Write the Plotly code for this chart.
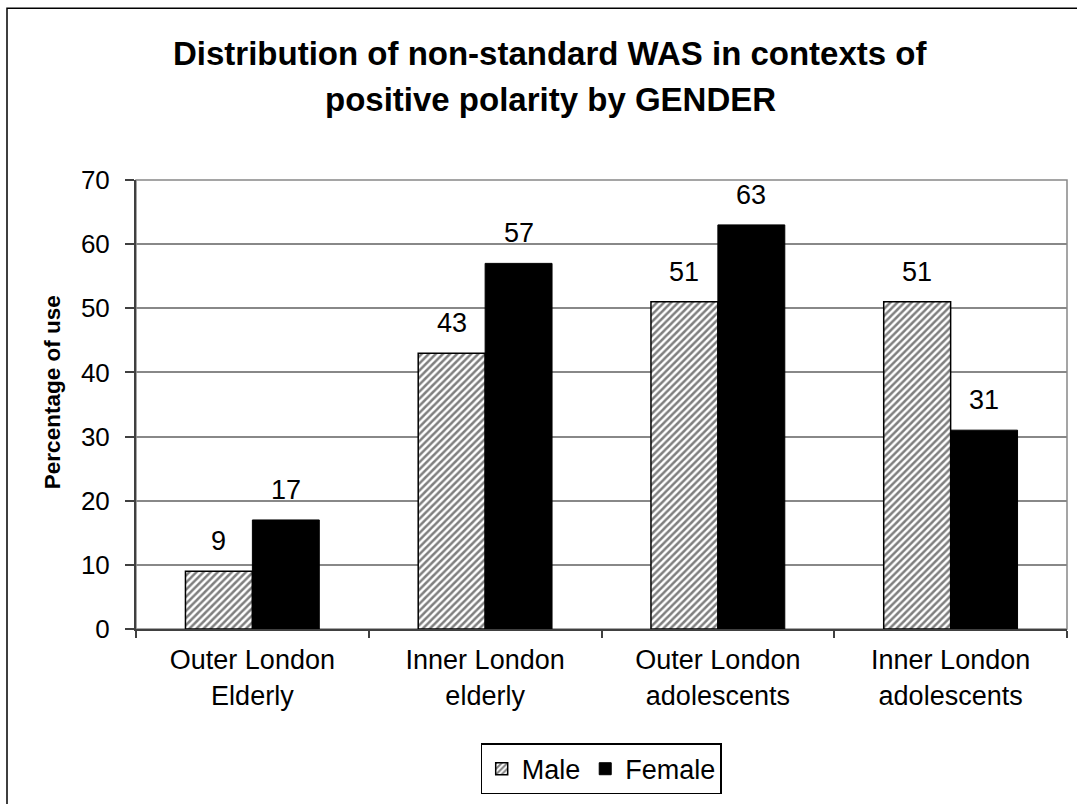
import plotly.graph_objects as go

# Data
groups = ["Outer London<br>Elderly", "Inner London<br>elderly",
          "Outer London<br>adolescents", "Inner London<br>adolescents"]
male = [9, 43, 51, 51]
female = [17, 57, 63, 31]
title_lines = ["Distribution of non-standard WAS in contexts of",
               "positive polarity by GENDER"]
y_title = "Percentage of use"

# Layout geometry (pixels)
W, H = 1077, 804
M_L, M_R, M_T, M_B = 136, 10, 180, 169
PW = W - M_L - M_R
PH = H - M_T - M_B
BARGAP = 0.425
bar_px = PW / len(groups) * (1 - BARGAP) / 2

FONT = "Liberation Sans, Arial, sans-serif"

fig = go.Figure()
fig.add_trace(go.Bar(
    name="Male", x=groups, y=male,
    marker=dict(color="white",
                line=dict(color="black", width=1.5),
                pattern=dict(shape="/", fgcolor="black", bgcolor="white",
                             size=5, solidity=0.5)),
))
fig.add_trace(go.Bar(
    name="Female", x=groups, y=female,
    marker=dict(color="black", line=dict(color="black", width=1)),
))

# Value labels above each bar
for vals, sign in ((male, -1), (female, 1)):
    for g, v in zip(groups, vals):
        fig.add_annotation(x=g, y=v, text=str(v), showarrow=False,
                           xref="x", yref="y", xanchor="center", yanchor="bottom",
                           xshift=sign * bar_px / 2, yshift=13,
                           font=dict(family=FONT, size=27, color="black"))

# Title (two lines, wide line spacing)
for i, line in enumerate(title_lines):
    yc = 52 + i * 46.6
    fig.add_annotation(x=(550 - M_L) / PW, y=(PH + M_T - yc) / PH,
                       xref="paper", yref="paper", text=f"<b>{line}</b>",
                       showarrow=False, xanchor="center", yanchor="middle",
                       font=dict(family=FONT, size=33, color="black"))

# Y axis title
fig.add_annotation(x=(52 - M_L) / PW, y=(PH + M_T - 395) / PH,
                   xref="paper", yref="paper", text=f"<b>{y_title}</b>",
                   showarrow=False, textangle=-90, xanchor="center", yanchor="middle",
                   font=dict(family=FONT, size=22.5, color="black"))

# Plot frame and outer chart border
fig.add_shape(type="rect", xref="paper", yref="paper", x0=0, y0=0, x1=1, y1=1,
              line=dict(color="#888888", width=1.5), layer="below")
fig.add_shape(type="rect", xref="paper", yref="paper",
              x0=(7 - M_L) / PW, x1=(W + 20 - M_L) / PW,
              y0=(PH + M_T - H - 20) / PH, y1=(PH + M_T - 6) / PH,
              line=dict(color="black", width=1.5))

fig.update_layout(
    width=W, height=H,
    margin=dict(l=M_L, r=M_R, t=M_T, b=M_B),
    paper_bgcolor="white", plot_bgcolor="white",
    barmode="group", bargap=BARGAP, bargroupgap=0,
    font=dict(family=FONT, size=25, color="black"),
    showlegend=True,
    legend=dict(orientation="h", x=(601 - M_L) / PW, xanchor="center",
                y=(PH + M_T - 751) / PH, yanchor="top",
                bordercolor="black", borderwidth=1.2,
                font=dict(family=FONT, size=27, color="black"),
                itemwidth=30, tracegroupgap=0),
)
fig.update_xaxes(
    showline=True, linecolor="#404040", linewidth=2,
    ticks="outside", tickson="boundaries", ticklen=7, tickcolor="#404040", tickwidth=2,
    tickfont=dict(family=FONT, size=27, color="black"),
    ticklabelstandoff=6,
    showgrid=False,
)
fig.update_yaxes(
    range=[0, 70], dtick=10,
    showline=True, linecolor="#404040", linewidth=2,
    ticks="outside", ticklen=9, tickcolor="#404040", tickwidth=2,
    tickfont=dict(family=FONT, size=26, color="black"),
    ticklabelstandoff=10,
    showgrid=True, gridcolor="#888888", gridwidth=1.5,
    zeroline=False,
)

fig.write_html("out.html")
